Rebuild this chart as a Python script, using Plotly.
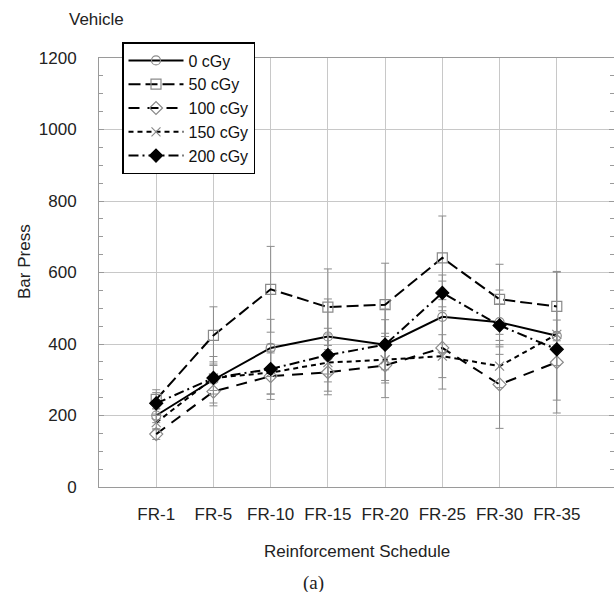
import plotly.graph_objects as go

categories = ["FR-1", "FR-5", "FR-10", "FR-15", "FR-20", "FR-25", "FR-30", "FR-35"]
y_ticks = [0, 200, 400, 600, 800, 1000, 1200]

series_names = ["0 cGy", "50 cGy", "100 cGy", "150 cGy", "200 cGy"]
vals_0 = [200, 300, 389, 421, 398, 476, 461, 423]
vals_50 = [245, 424, 553, 503, 510, 641, 525, 505]
vals_100 = [148, 267, 310, 321, 340, 389, 287, 349]
vals_150 = [180, 305, 320, 348, 356, 366, 338, 427]
vals_200 = [234, 305, 330, 369, 398, 543, 452, 385]

err_0 = [20, 65, 80, 105, 100, 100, 90, 180]
err_50 = [27, 80, 120, 107, 116, 117, 98, 96]
err_100 = [15, 40, 65, 63, 90, 115, 123, 142]
err_150 = [20, 35, 60, 80, 65, 60, 60, 40]
err_200 = [30, 45, 70, 75, 70, 50, 60, 45]

x_pos = list(range(len(categories)))

styles = [
    dict(dash="solid", symbol="circle-open", mcolor="#8a8a8a", msize=9),
    dict(dash="12px,5px", symbol="square-open", mcolor="#8a8a8a", msize=10),
    dict(dash="11px,8px", symbol="diamond-open", mcolor="#8a8a8a", msize=10),
    dict(dash="5px,4px", symbol="x-thin-open", mcolor="#8a8a8a", msize=9),
    dict(dash="10px,4px,2px,4px", symbol="diamond", mcolor="#000000", msize=10),
]
all_vals = [vals_0, vals_50, vals_100, vals_150, vals_200]
all_errs = [err_0, err_50, err_100, err_150, err_200]

fig = go.Figure()
for name, vals, errs, st in zip(series_names, all_vals, all_errs, styles):
    fig.add_trace(go.Scatter(
        x=x_pos, y=vals, name=name, mode="lines+markers",
        line=dict(color="black", width=2, dash=st["dash"]),
        marker=dict(symbol=st["symbol"], size=st["msize"], color=st["mcolor"],
                    line=dict(color=st["mcolor"], width=1.2)),
        error_y=dict(type="data", array=errs, visible=True, color="#8c8c8c",
                     thickness=1, width=4),
    ))

font_family = "Liberation Sans, Arial, sans-serif"

plot_l, plot_r, plot_t, plot_b = 99, 614, 58, 487

fig.update_layout(
    width=614, height=592,
    margin=dict(l=plot_l, r=614 - plot_r, t=plot_t, b=592 - plot_b),
    paper_bgcolor="white", plot_bgcolor="white",
    font=dict(family=font_family, size=17, color="#222222"),
    showlegend=True,
    legend=dict(
        x=(122 - plot_l) / (plot_r - plot_l), y=(plot_b - 42) / (plot_b - plot_t),
        xanchor="left", yanchor="top",
        bgcolor="white", bordercolor="black", borderwidth=1.5,
        font=dict(family=font_family, size=16, color="#111111"),
        itemwidth=55, tracegroupgap=0,
    ),
    xaxis=dict(
        range=[-1, 8], tickmode="array", tickvals=x_pos, ticktext=categories,
        showgrid=True, gridcolor="#c8c8c8", gridwidth=1,
        showline=True, linecolor="#9a9a9a", linewidth=1, mirror=True,
        ticks="", zeroline=False, ticklabelstandoff=12,
        tickfont=dict(size=17, color="#222222"),
    ),
    yaxis=dict(
        range=[0, 1200], tickmode="array", tickvals=y_ticks,
        showgrid=True, gridcolor="#c8c8c8", gridwidth=1,
        showline=True, linecolor="#9a9a9a", linewidth=1, mirror="allticks",
        ticks="inside", ticklen=5, tickcolor="#9a9a9a", zeroline=False,
        ticklabelstandoff=18,
        tickfont=dict(size=17, color="#222222"),
        minor=dict(dtick=50, ticks="inside", ticklen=4, tickcolor="#9a9a9a", showgrid=False),
    ),
)

def px_ann(text, px, py, xanchor="center", angle=0, font=None):
    d = dict(text=text, xref="paper", yref="paper", showarrow=False,
             x=(px - plot_l) / (plot_r - plot_l), y=(plot_b - py) / (plot_b - plot_t),
             xanchor=xanchor, yanchor="middle", textangle=angle)
    if font:
        d["font"] = font
    return d

fig.update_layout(annotations=[
    px_ann("Vehicle", 67, 20, xanchor="left"),
    px_ann("Bar Press", 24, 262, angle=-90),
    px_ann("Reinforcement Schedule", 357, 551),
    px_ann("(a)", 313, 583, font=dict(family="Liberation Serif, Times New Roman, serif",
                                      size=19, color="#222222")),
])

fig.write_html("out.html", config={"displayModeBar": False},
               post_script="document.body.style.margin='0';document.body.style.overflow='hidden';")
